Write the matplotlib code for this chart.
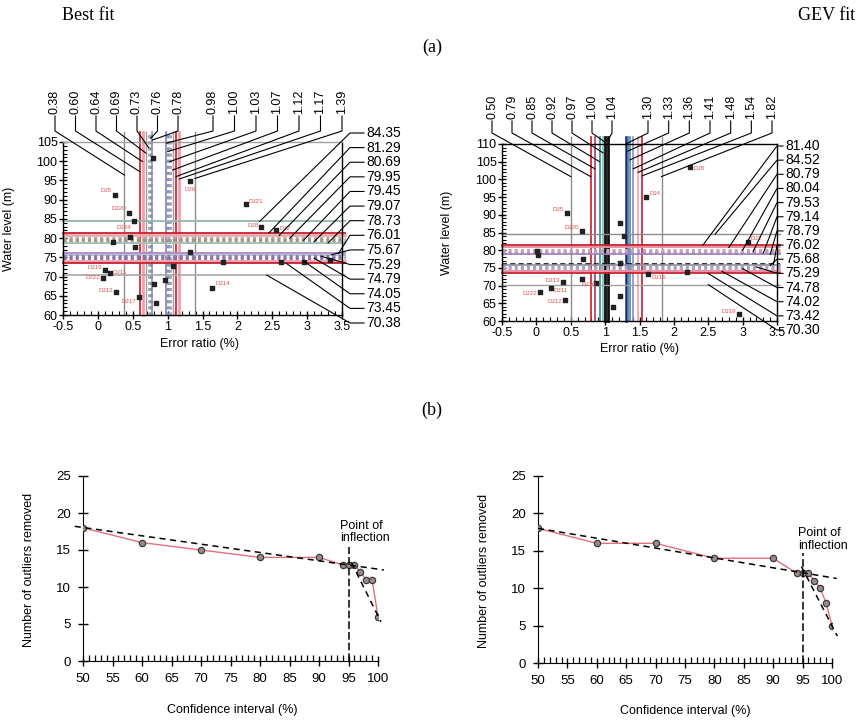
import numpy as np
import matplotlib
matplotlib.use('Agg')
import matplotlib.pyplot as plt
from matplotlib.lines import Line2D
from matplotlib.ticker import MultipleLocator, FuncFormatter

plt.rcParams['font.family'] = 'Liberation Sans'

# ---------------- (a) error ratio vs water level ----------------
# vertical lines (error ratio) and horizontal lines (water level), in label order
best_vlines = [0.38, 0.60, 0.64, 0.69, 0.73, 0.76, 0.78, 0.98, 1.00, 1.03, 1.07, 1.12, 1.17, 1.39]
best_hlines = [84.35, 81.29, 80.69, 79.95, 79.45, 79.07, 78.73, 76.01, 75.67, 75.29, 74.79, 74.05, 73.45, 70.38]
gev_vlines = [0.50, 0.79, 0.85, 0.92, 0.97, 1.00, 1.04, 1.30, 1.33, 1.36, 1.41, 1.48, 1.54, 1.82]
gev_hlines = [81.40, 84.52, 80.79, 80.04, 79.53, 79.14, 78.79, 76.02, 75.68, 75.29, 74.78, 74.02, 73.42, 70.30]

# stations (error ratio, water level, name)
best_pt_x = [0.24, 0.45, 0.52, 0.46, 0.53, 0.22, 0.10, 0.17, 0.07, 0.26, 0.59, 0.81, 0.84, 0.79,
             0.96, 1.07, 1.32, 1.32, 2.12, 2.34, 2.56, 1.64, 1.80, 2.63, 2.95, 3.33]
best_pt_y = [91.2, 86.6, 84.5, 80.4, 77.8, 78.9, 71.7, 71.0, 69.7, 66.0, 64.7, 68.0, 63.2, 100.8,
             69.1, 72.7, 94.9, 76.5, 88.8, 83.0, 82.2, 67.1, 73.9, 73.9, 73.9, 74.3]
best_pt_lab = ['DJ5', 'DJ20', 'DJ24', '', '', '', 'DJ19', 'DJ11', 'DJ22', 'DJ12', 'DJ17', '', '', '',
               '', '', 'DJ6', '', 'DJ21', 'DJ8', 'DJ2', 'DJ14', '', '', '', '']

gev_pt_x = [2.23, 1.59, 0.44, 0.66, 1.21, 1.28, 0.01, 0.03, 0.68, 1.21, 0.66, 1.62, 2.19, 0.39,
            0.21, 0.05, 0.41, 1.21, 1.12, 3.08, 2.94, 0.86]
gev_pt_y = [103.4, 94.9, 90.6, 85.5, 87.8, 84.0, 79.9, 78.6, 77.5, 76.5, 72.0, 73.2, 73.9, 71.1,
            69.4, 68.3, 65.9, 67.0, 64.0, 82.4, 62.0, 70.6]
gev_pt_lab = ['DJ8', 'DJ4', 'DJ5', 'DJ20', '', '', '', '', '', '', 'DJ10', 'DJ16', '', 'DJ13',
              'DJ11', 'DJ22', 'DJ12', '', '', 'DJ2', 'DJ19', '']

# where the leader lines meet their line
best_vlead_y = [96.4, 97.3, 99.9, 102.1, 103.5, 106.0, 105.5, 104.7, 102.5, 99.9, 97.7, 96.0, 95.4, 95.5]
best_hlead_x = [2.32, 2.45, 2.6, 2.75, 2.95, 3.1, 3.3, 3.45, 3.35, 3.2, 3.1, 2.95, 2.7, 2.42]
gev_vlead_y = [100.8, 100.8, 103.0, 105.0, 107.5, 110.5, 111.0, 110.0, 108.0, 105.5, 103.0, 102.0, 101.0, 100.8]
gev_hlead_x = [2.42, 2.6, 2.8, 3.0, 3.15, 3.3, 3.4, 3.45, 3.4, 3.2, 3.0, 2.7, 2.5, 2.5]

# ---------------- (b) outliers removed vs confidence interval ----------------
ci = [50, 60, 70, 80, 90, 94, 95, 96, 97, 98, 99, 100]
best_removed = [18, 16, 15, 14, 14, 13, 13, 13, 12, 11, 11, 6]
gev_removed = [18, 16, 16, 14, 14, 12, 12, 12, 11, 10, 8, 5]
best_trend1_x, best_trend1_y = [48.6, 101.0], [18.2, 12.3]
best_trend2_x, best_trend2_y = [95.5, 100.5], [13.3, 5.3]
gev_trend1_x, gev_trend1_y = [50.0, 100.8], [18.0, 11.3]
gev_trend2_x, gev_trend2_y = [94.8, 100.9], [12.9, 3.6]
inflection_ci = 95
best_infl_top = 15.4
gev_infl_top = 14.7

# ---------------- styles ----------------
DOT = (0, (1, 1))
best_vstyle = [('#8c8c8c', 1.0, '-'), ('#d42a3a', 1.3, '-'), ('#f0a0aa', 2.0, '-'), ('#a0a0a0', 1.0, '-'),
               ('#9fb5a8', 2.2, DOT), ('#8a8fa8', 2.2, DOT), ('#9090b0', 1.2, '-'), ('#8a7fb0', 1.2, '-'),
               ('#8090c0', 2.2, DOT), ('#a0a8b8', 2.2, DOT), ('#a0a0a0', 1.0, '-'), ('#d42a3a', 1.3, '-'),
               ('#f0a0aa', 2.0, '-'), ('#8c8c8c', 1.0, '-')]
best_hstyle = [('#9ab8b0', 1.4, '-'), ('#c8202e', 1.3, '-'), ('#f0a8b0', 2.0, '-'), ('#a8b0a0', 2.2, DOT),
               ('#a89080', 2.2, DOT), ('#98a898', 2.2, DOT), ('#a8c0b8', 1.4, '-'), ('#b090c8', 1.4, '-'),
               ('#c0c0d0', 1.4, '-'), ('#8080b8', 2.2, DOT), ('#9070a8', 2.2, DOT), ('#f0a0b0', 2.0, '-'),
               ('#c8202e', 1.3, '-'), ('#a8a8a8', 1.2, '-')]
gev_vstyle = [('#8c8c8c', 1.0, '-'), ('#d42a3a', 1.3, '-'), ('#a04060', 1.2, '-'), ('#2a9090', 1.2, '-'),
              ('#80c0b0', 1.2, '-'), ('#111111', 2.0, '-'), ('#111111', 2.0, '-'), ('#1a2a70', 1.8, '-'),
              ('#5070c0', 1.2, '-'), ('#3a9a9a', 1.2, '-'), ('#a080c0', 1.2, '-'), ('#e8a0b0', 1.2, '-'),
              ('#d42a3a', 1.3, '-'), ('#8c8c8c', 1.0, '-')]
gev_hstyle = [('#c8202e', 1.3, '-'), ('#8c8c8c', 1.0, '-'), ('#e890a0', 1.4, '-'), ('#d0a0b0', 2.2, DOT),
              ('#c0a0c0', 2.2, DOT), ('#b8a0c8', 2.2, DOT), ('#a080b8', 1.2, '-'), ('#111111', 1.2, (0, (3, 2))),
              ('#9090a0', 1.2, '-'), ('#a0a0c8', 2.2, DOT), ('#c0a0c0', 2.2, DOT), ('#e890a0', 1.4, '-'),
              ('#c8202e', 1.3, '-'), ('#a0a0a0', 1.0, '-')]

# label offsets (points) for station names
best_pt_off = {'DJ5': (-2, 3, 'right'), 'DJ20': (-2, 3, 'right'), 'DJ24': (-2, -5, 'right'),
               'DJ19': (-2, 2, 'right'), 'DJ11': (2, 0, 'left'), 'DJ22': (-2, 0, 'right'),
               'DJ12': (-2, 1, 'right'), 'DJ17': (-2, -3, 'right'), 'DJ6': (0, -6, 'center'),
               'DJ21': (2, 2, 'left'), 'DJ8': (-2, 1, 'right'), 'DJ2': (2, 1, 'left'), 'DJ14': (2, 3, 'left')}
gev_pt_off = {'DJ8': (3, -1, 'left'), 'DJ4': (3, 3, 'left'), 'DJ5': (-2, 2, 'right'), 'DJ20': (-2, 2, 'right'),
              'DJ10': (0, -4, 'left'), 'DJ16': (3, -2, 'left'), 'DJ13': (-2, 1, 'right'), 'DJ11': (2, -2, 'left'),
              'DJ22': (-2, -1, 'right'), 'DJ12': (-2, -1, 'right'), 'DJ2': (2, 2, 'left'), 'DJ19': (-2, 2, 'right')}

W, H = 858, 720
fig = plt.figure(figsize=(W / 100, H / 100), dpi=100)


def rect(l, t, r, b):
    # pixel box -> figure fraction
    return [l / W, 1 - b / H, (r - l) / W, (b - t) / H]


def pix(px, py):
    return px / W, 1 - py / H


def data_to_fig(ax, x, y):
    return fig.transFigure.inverted().transform(ax.transData.transform((x, y)))


def leader(pts):
    fig.add_artist(Line2D([p[0] for p in pts], [p[1] for p in pts], transform=fig.transFigure,
                          color='black', lw=0.8))


def error_panel(box, ylim, line_top, vlines, vstyle, hlines, hstyle, pt_x, pt_y, pt_lab, pt_off,
                vlead_y, hlead_x, top_px, top_text_y, top_stub_y, side_py, side_text_x, side_stub_x, top_col):
    ax = fig.add_axes(rect(*box))
    ax.set_xlim(-0.5, 3.5)
    ax.set_ylim(*ylim)
    for v, (c, lw, ls) in zip(vlines, vstyle):
        ax.plot([v, v], [ylim[0], line_top], color=c, lw=lw, ls=ls, clip_on=False, zorder=2)
    for h, (c, lw, ls) in zip(hlines, hstyle):
        ax.plot([-0.5, 3.55], [h, h], color=c, lw=lw, ls=ls, clip_on=False, zorder=2)
    ax.scatter(pt_x, pt_y, marker='s', s=5, color='#222222', zorder=5)
    for x, y, lab in zip(pt_x, pt_y, pt_lab):
        if lab:
            dx, dy, ha = pt_off[lab]
            ax.annotate(lab, (x, y), xytext=(dx, dy), textcoords='offset points', ha=ha, va='center',
                        fontsize=4.5, color='#e05050', zorder=6)
    # labels above for the vertical lines
    for v, lx, ey in zip(vlines, top_px, vlead_y):
        fig.text(*pix(lx, top_text_y), '%.2f' % v, rotation=90, ha='center', va='bottom', fontsize=9)
        leader([pix(lx, top_text_y + 2), pix(lx, top_stub_y), data_to_fig(ax, v, ey)])
    # labels on the right for the horizontal lines
    for h, ly, ex in zip(hlines, side_py, hlead_x):
        fig.text(*pix(side_text_x, ly), '%.2f' % h, ha='left', va='center', fontsize=10)
        leader([pix(side_text_x - 2, ly), pix(side_stub_x, ly), data_to_fig(ax, ex, h)])
    ax.xaxis.set_major_locator(MultipleLocator(0.5))
    ax.xaxis.set_minor_locator(MultipleLocator(0.1))
    ax.yaxis.set_major_locator(MultipleLocator(5))
    ax.yaxis.set_minor_locator(MultipleLocator(1))
    ax.xaxis.set_major_formatter(FuncFormatter(lambda v, p: '%g' % v))
    ax.tick_params(which='major', direction='inout', length=6, width=1, labelsize=9, pad=1)
    ax.tick_params(which='minor', direction='in', length=3, width=0.8)
    ax.spines['top'].set_color(top_col)
    for s in ax.spines.values():
        s.set_linewidth(1.0)
    ax.set_ylabel('Water level (m)', fontsize=9)
    ax.set_xlabel('Error ratio (%)', fontsize=9)
    return ax


ax1 = error_panel((63, 142, 342, 315), (60, 105), 107.5, best_vlines, best_vstyle, best_hlines, best_hstyle,
                  best_pt_x, best_pt_y, best_pt_lab, best_pt_off, best_vlead_y, best_hlead_x,
                  np.r_[np.linspace(55, 178, 7), np.linspace(213, 342, 7)], 114, 131,
                  np.linspace(133, 323, 14), 366, 350, '#a0a0a0')
ax1.yaxis.set_label_coords(-0.172, 0.5)
ax1.xaxis.set_label_coords(0.49, -0.135)

ax2 = error_panel((502, 144, 777, 321), (60, 110), 112, gev_vlines, gev_vstyle, gev_hlines, gev_hstyle,
                  gev_pt_x, gev_pt_y, gev_pt_lab, gev_pt_off, gev_vlead_y, gev_hlead_x,
                  np.r_[np.linspace(492, 612, 7), np.linspace(648, 772, 7)], 119, 133,
                  np.linspace(146, 330, 14), 785, 777, 'black')
ax2.yaxis.set_label_coords(-0.178, 0.5)
ax2.xaxis.set_label_coords(0.5, -0.125)


def outlier_panel(box, removed, t1x, t1y, t2x, t2y, infl_top, text_x, text_y):
    ax = fig.add_axes(rect(*box))
    ax.plot(ci, removed, color='#e0707c', lw=1.0, zorder=3, marker='o', ms=4.5,
            mfc='#9a8c8c', mec='#3a3a3a', mew=0.9)
    ax.plot(t1x, t1y, color='black', lw=1.1, ls=(0, (4, 3)), clip_on=False, zorder=4)
    ax.plot(t2x, t2y, color='black', lw=1.1, ls=(0, (4, 3)), clip_on=False, zorder=4)
    ax.plot([inflection_ci, inflection_ci], [0, infl_top], color='black', lw=1.1, ls=(0, (5, 2)), zorder=4)
    ax.text(text_x, text_y, 'Point of\ninflection', fontsize=9, ha='left', va='bottom', linespacing=1.05)
    ax.set_xlim(50, 100)
    ax.set_ylim(0, 25)
    ax.spines['top'].set_visible(False)
    ax.spines['right'].set_visible(False)
    ax.xaxis.set_major_locator(MultipleLocator(5))
    ax.xaxis.set_minor_locator(MultipleLocator(1))
    ax.yaxis.set_major_locator(MultipleLocator(5))
    ax.tick_params(which='major', direction='inout', length=7, width=1, labelsize=9.5, pad=5)
    ax.tick_params(which='minor', direction='in', length=4, width=0.9)
    ax.set_ylabel('Number of outliers removed', fontsize=9)
    ax.set_xlabel('Confidence interval (%)', fontsize=9)
    return ax


ax3 = outlier_panel((83, 476, 378, 661), best_removed, best_trend1_x, best_trend1_y,
                    best_trend2_x, best_trend2_y, best_infl_top, 93.6, 15.8)
ax3.yaxis.set_label_coords(-0.163, 0.49)
ax3.xaxis.set_label_coords(0.505, -0.235)

ax4 = outlier_panel((538, 476, 832, 663), gev_removed, gev_trend1_x, gev_trend1_y,
                    gev_trend2_x, gev_trend2_y, gev_infl_top, 94.3, 14.9)
ax4.yaxis.set_label_coords(-0.164, 0.49)
ax4.xaxis.set_label_coords(0.5, -0.225)

# headings
serif = dict(family='Liberation Serif', fontsize=13)
fig.text(*pix(62, 15), 'Best fit', ha='left', va='center', **serif)
fig.text(*pix(855, 15), 'GEV fit', ha='right', va='center', **serif)
fig.text(*pix(432, 47), '(a)', ha='center', va='center', **serif)
fig.text(*pix(432, 410), '(b)', ha='center', va='center', **serif)

fig.savefig('out.png', dpi=100)
